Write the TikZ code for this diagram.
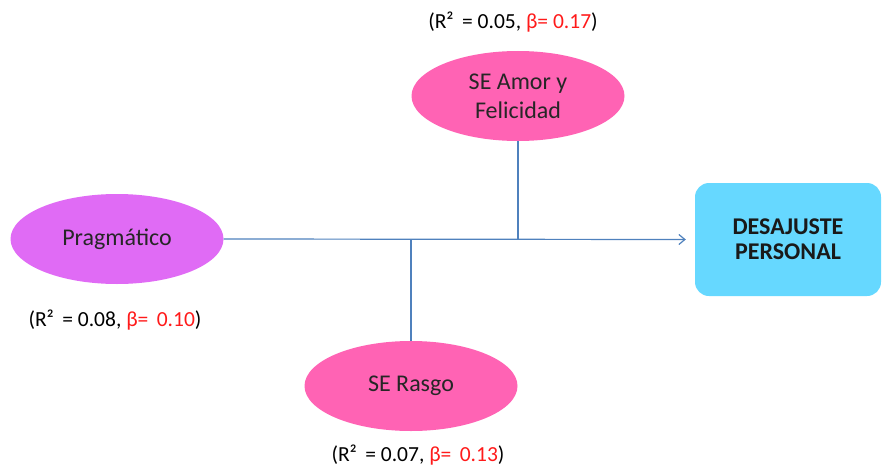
\documentclass[tikz,border=0pt]{standalone}
\usepackage{fontspec}
\setmainfont{Carlito}
\usepackage{xcolor}
\usetikzlibrary{shapes.geometric}
\usetikzlibrary{arrows.meta}
\definecolor{lila}{HTML}{E06BF5}
\definecolor{rosa}{HTML}{FF63B4}
\definecolor{celeste}{HTML}{66D8FF}
\definecolor{linea}{HTML}{4F81BD}
\definecolor{rojo}{HTML}{FF1A1A}
\begin{document}
\begin{tikzpicture}[x=1pt, y=-1pt,
	elipse/.style={ellipse, minimum width=213pt, minimum height=90pt, inner sep=0pt, align=center, text=black!85, font=\fontsize{24}{29}\selectfont},
	caja/.style={rounded corners=14pt, minimum width=186pt, minimum height=113pt, fill=celeste, align=center, text=black!90, font=\fontsize{24}{25}\selectfont\bfseries},
	dato/.style={font=\fontsize{21.5}{24}\selectfont},
	flecha/.style={draw=linea, line width=1.2pt}]
	%Rahmen
	\useasboundingbox (0,0) rectangle (882,468);
	%
	%Pragmatico
	\node (prag) at (117,239) [elipse, fill=lila] {Pragmático};
	\node (datoprag) at (115,320) [dato] {(R²\, = 0.08, {\color{rojo}β=\, 0.10})};
	%
	%SE Amor y Felicidad
	\node (amor) at (518,96) [elipse, fill=rosa] {SE Amor y\\Felicidad};
	\node (datoamor) at (513,22) [dato] {(R²\, = 0.05, {\color{rojo}β= 0.17})};
	%
	%SE Rasgo
	\node (rasgo) at (411,386) [elipse, fill=rosa] {SE Rasgo};
	\node (datorasgo) at (418,455) [dato] {(R²\, = 0.07, {\color{rojo}β=\, 0.13})};
	%
	%Desajuste personal
	\node (desajuste) at (788,239.5) [caja] {DESAJUSTE\\PERSONAL};
	%
	%Pfeil Pragmatico - Desajuste
	\draw[flecha, -{Straight Barb[length=6pt, width=10pt]}] (prag.east) -- ([xshift=-9pt]desajuste.west);
	%
	%Linie Amor
	\draw[flecha] (amor.south) -- (amor.south |- prag.east);
	%
	%Linie Rasgo
	\draw[flecha] (rasgo.north) -- (rasgo.north |- prag.east);
\end{tikzpicture}
\end{document}
